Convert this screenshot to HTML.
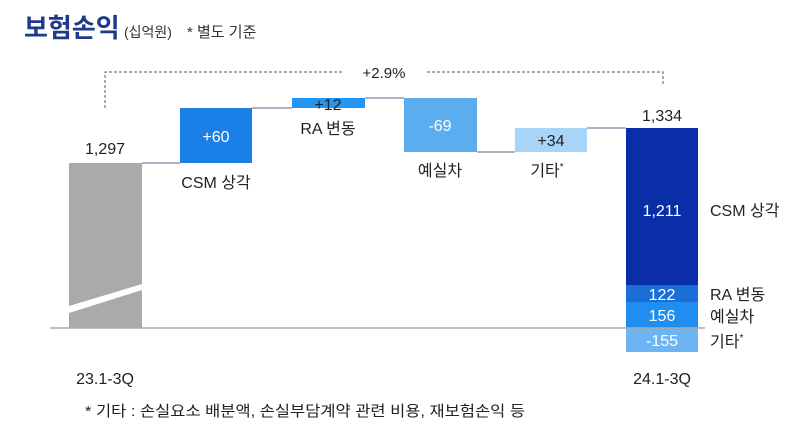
<!DOCTYPE html>
<html><head><meta charset="utf-8"><style>
body{margin:0;background:#fff;}
svg text{font-family:"Liberation Sans","Noto Sans CJK KR",sans-serif;}
</style></head><body>
<svg width="800" height="434" viewBox="0 0 800 434" xmlns="http://www.w3.org/2000/svg">
<text x="24" y="37" font-size="26" fill="#1f3a8c" font-weight="bold">보험손익</text>
<text x="124" y="37" font-size="14" fill="#333">(십억원)</text>
<text x="187" y="37" font-size="15" fill="#333">* 별도 기준</text>
<path d="M105 108 V72 H342 M427 72 H663 V84" fill="none" stroke="#4a5a7a" stroke-width="1" stroke-dasharray="3,2"/>
<text x="384" y="78" font-size="15" fill="#222" text-anchor="middle">+2.9%</text>
<g stroke="#5a6a8a" stroke-width="1">
<line x1="142" y1="163" x2="180" y2="163"/>
<line x1="252" y1="108" x2="292" y2="108"/>
<line x1="365" y1="98" x2="404" y2="98"/>
<line x1="477" y1="152" x2="515" y2="152"/>
<line x1="587" y1="128" x2="626" y2="128"/>
</g>
<rect x="69" y="163" width="73" height="165" fill="#aaaaaa"/>
<polygon points="69,306 142,284 142,290 69,313" fill="#fff"/>
<rect x="180" y="108" width="72" height="55" fill="#1a7fe6"/>
<rect x="292" y="98" width="73" height="10" fill="#2196f3"/>
<rect x="404" y="98" width="73" height="54" fill="#5aaef0"/>
<rect x="515" y="128" width="72" height="24" fill="#a8d4f8"/>
<rect x="626" y="128" width="72" height="157" fill="#0a2ea8"/>
<rect x="626" y="285" width="72" height="17" fill="#1a6fd6"/>
<rect x="626" y="302" width="72" height="26" fill="#1f8ef0"/>
<rect x="626" y="328" width="72" height="24" fill="#6cb4f2"/>
<line x1="50" y1="328" x2="705" y2="328" stroke="#aaa" stroke-width="1.5"/>
<g font-size="16" text-anchor="middle" fill="#222">
<text x="105" y="154">1,297</text>
<text x="216" y="142" fill="#fff">+60</text>
<text x="216" y="188">CSM 상각</text>
<text x="328" y="110">+12</text>
<text x="328" y="134">RA 변동</text>
<text x="440" y="131" fill="#fff">-69</text>
<text x="440" y="176">예실차</text>
<text x="551" y="146">+34</text>
<text x="547" y="176">기타<tspan font-size="10" dy="-6">*</tspan></text>
<text x="662" y="121">1,334</text>
<text x="662" y="216" fill="#fff">1,211</text>
<text x="662" y="300" fill="#fff">122</text>
<text x="662" y="321" fill="#fff">156</text>
<text x="662" y="346" fill="#fff">-155</text>
<text x="105" y="384">23.1-3Q</text>
<text x="662" y="384">24.1-3Q</text>
</g>
<g font-size="16" fill="#222">
<text x="710" y="216">CSM 상각</text>
<text x="710" y="300">RA 변동</text>
<text x="710" y="322">예실차</text>
<text x="710" y="347">기타<tspan font-size="10" dy="-6">*</tspan></text>
</g>
<text x="85" y="416" font-size="15" fill="#222" textLength="440" lengthAdjust="spacingAndGlyphs">* 기타 : 손실요소 배분액, 손실부담계약 관련 비용, 재보험손익 등</text>
</svg>
</body></html>
